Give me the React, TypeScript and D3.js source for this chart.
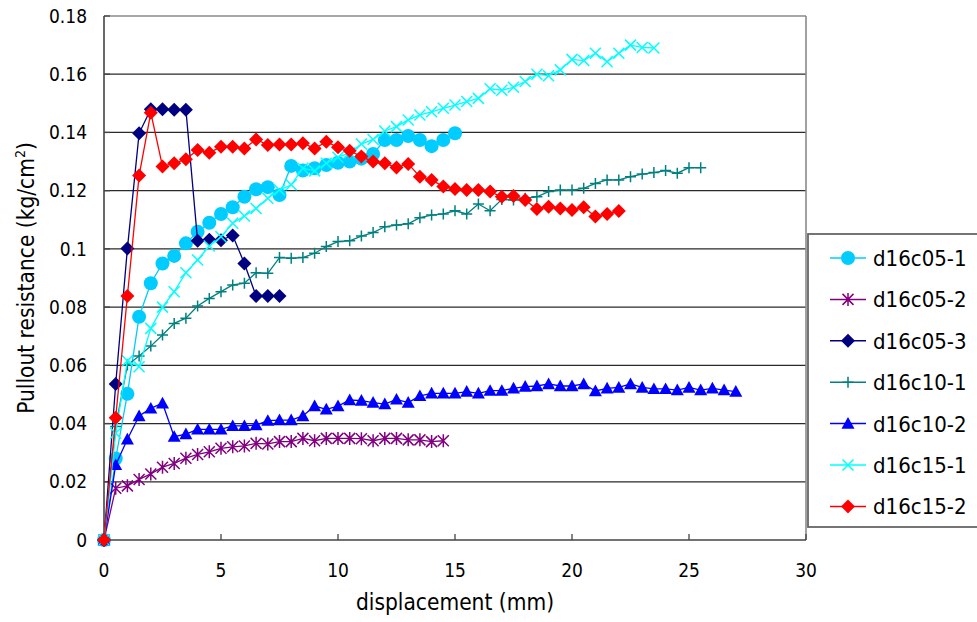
import React from "react";
import * as d3 from "d3";

const disp = [0, 0.5, 1, 1.5, 2, 2.5, 3, 3.5, 4, 4.5, 5, 5.5, 6, 6.5, 7, 7.5, 8, 8.5, 9, 9.5, 10, 10.5, 11, 11.5, 12, 12.5, 13, 13.5, 14, 14.5, 15, 15.5, 16, 16.5, 17, 17.5, 18, 18.5, 19, 19.5, 20, 20.5, 21, 21.5, 22, 22.5, 23, 23.5, 24, 24.5, 25, 25.5, 26, 26.5, 27];

const d16c05_1 = [0, 0.028, 0.0502, 0.0767, 0.0882, 0.095, 0.0976, 0.1019, 0.1059, 0.109, 0.112, 0.1143, 0.1179, 0.1205, 0.1212, 0.1185, 0.1285, 0.1269, 0.1277, 0.1288, 0.1296, 0.130, 0.131, 0.1326, 0.1374, 0.1374, 0.1388, 0.1374, 0.1353, 0.1374, 0.1397];
const d16c05_2 = [0, 0.0178, 0.0186, 0.0208, 0.0227, 0.025, 0.0263, 0.0281, 0.0294, 0.0303, 0.0315, 0.032, 0.0323, 0.0332, 0.033, 0.0338, 0.0338, 0.0349, 0.0341, 0.0349, 0.0349, 0.0349, 0.0348, 0.0341, 0.0349, 0.0349, 0.0344, 0.0344, 0.0338, 0.0341];
const d16c05_3 = [0, 0.0536, 0.1001, 0.1397, 0.148, 0.148, 0.1478, 0.1478, 0.1028, 0.1031, 0.103, 0.1046, 0.095, 0.0838, 0.0838, 0.0838];
const d16c10_1 = [0, 0.039, 0.0601, 0.0632, 0.0666, 0.0704, 0.0744, 0.0762, 0.0804, 0.083, 0.0853, 0.0876, 0.0882, 0.0918, 0.0916, 0.097, 0.0968, 0.097, 0.0985, 0.1008, 0.1025, 0.1028, 0.1044, 0.1056, 0.1076, 0.1082, 0.1086, 0.1107, 0.1116, 0.112, 0.1131, 0.112, 0.1154, 0.1131, 0.117, 0.1168, 0.1174, 0.1179, 0.1197, 0.1202, 0.1202, 0.1208, 0.1225, 0.1237, 0.1237, 0.1248, 0.1257, 0.1262, 0.1269, 0.126, 0.1279, 0.1279];
const d16c10_2 = [0, 0.0258, 0.0346, 0.0426, 0.0452, 0.047, 0.0355, 0.0364, 0.038, 0.038, 0.038, 0.0392, 0.0392, 0.0395, 0.041, 0.0412, 0.0412, 0.0426, 0.046, 0.0449, 0.046, 0.0481, 0.0479, 0.0472, 0.0467, 0.0483, 0.0472, 0.0495, 0.0504, 0.0504, 0.0504, 0.051, 0.0504, 0.0513, 0.0513, 0.0521, 0.0527, 0.0529, 0.0536, 0.0529, 0.0529, 0.0536, 0.0512, 0.0521, 0.0524, 0.0536, 0.0524, 0.0519, 0.0519, 0.0515, 0.0524, 0.0515, 0.0521, 0.0515, 0.051];
const d16c15_1 = [0, 0.0367, 0.0616, 0.0595, 0.0727, 0.08, 0.0853, 0.0918, 0.0962, 0.101, 0.1042, 0.1088, 0.1113, 0.1139, 0.1174, 0.1202, 0.122, 0.1277, 0.1268, 0.1294, 0.1315, 0.133, 0.136, 0.1376, 0.1405, 0.142, 0.1443, 0.146, 0.1471, 0.1483, 0.1494, 0.1506, 0.1517, 0.155, 0.1545, 0.1555, 0.1575, 0.160, 0.1595, 0.1615, 0.1651, 0.1647, 0.1672, 0.1643, 0.1672, 0.170, 0.1692, 0.169];
const d16c15_2 = [0, 0.042, 0.0838, 0.1252, 0.1468, 0.1283, 0.1294, 0.1308, 0.134, 0.133, 0.1351, 0.1351, 0.1345, 0.1376, 0.1357, 0.1359, 0.1359, 0.1363, 0.1345, 0.1368, 0.1349, 0.1337, 0.1317, 0.130, 0.1294, 0.128, 0.1292, 0.1248, 0.1237, 0.1214, 0.1206, 0.1202, 0.1202, 0.1197, 0.1179, 0.1182, 0.1168, 0.1137, 0.1145, 0.1139, 0.1134, 0.1143, 0.1111, 0.112, 0.113];

const seriesNames = ["d16c05-1", "d16c05-2", "d16c05-3", "d16c10-1", "d16c10-2", "d16c15-1", "d16c15-2"];
const seriesValues = [d16c05_1, d16c05_2, d16c05_3, d16c10_1, d16c10_2, d16c15_1, d16c15_2];

const xTicks = [0, 5, 10, 15, 20, 25, 30];
const yTicks = [0, 0.02, 0.04, 0.06, 0.08, 0.1, 0.12, 0.14, 0.16, 0.18];
const yTickLabels = ["0", "0.02", "0.04", "0.06", "0.08", "0.1", "0.12", "0.14", "0.16", "0.18"];

const styles = [
  { color: "#00CCFF", shape: "circle" },
  { color: "#800080", shape: "asterisk" },
  { color: "#000080", shape: "diamond" },
  { color: "#008080", shape: "plus" },
  { color: "#0000FF", shape: "triangle" },
  { color: "#00FFFF", shape: "x" },
  { color: "#FF0000", shape: "diamond" },
];

const W = 977, H = 622;
const L = 104, R = 806, T = 16, B = 540;
const FONT = "'DejaVu Sans Condensed', 'Noto Sans', sans-serif";

function markerPath(shape: string): string {
  switch (shape) {
    case "circle": {
      const r = 7;
      return `M${-r},0A${r},${r} 0 1,0 ${r},0A${r},${r} 0 1,0 ${-r},0Z`;
    }
    case "diamond": {
      const r = 7;
      return `M0,${-r}L${r},0L0,${r}L${-r},0Z`;
    }
    case "triangle": {
      const w = 6.5, h = 6.5;
      return `M0,${-h}L${w},${h * 0.8}L${-w},${h * 0.8}Z`;
    }
    case "x": {
      const r = 5.5;
      return `M${-r},${-r}L${r},${r}M${-r},${r}L${r},${-r}`;
    }
    case "plus": {
      const r = 5.5;
      return `M${-r},0L${r},0M0,${-r}L0,${r}`;
    }
    case "asterisk": {
      const r = 5.5;
      return `M${-r},${-r}L${r},${r}M${-r},${r}L${r},${-r}M0,${-r - 1}L0,${r + 1}`;
    }
  }
  return "";
}

function isStroke(shape: string) {
  return shape === "x" || shape === "plus" || shape === "asterisk";
}

function Marker({ shape, color, x, y }: { shape: string; color: string; x: number; y: number }) {
  const stroke = isStroke(shape);
  return (
    <path
      d={markerPath(shape)}
      transform={`translate(${x},${y})`}
      fill={stroke ? "none" : color}
      stroke={color}
      strokeWidth={stroke ? 1.5 : 0}
    />
  );
}

export default function App() {
  const xs = d3.scaleLinear().domain([0, 30]).range([L, R]);
  const ys = d3.scaleLinear().domain([0, 0.18]).range([B, T]);
  const line = d3.line<[number, number]>().x((d) => xs(d[0])).y((d) => ys(d[1]));

  const data = seriesValues.map((vals) => vals.map((v, i) => [disp[i], v] as [number, number]));

  const legX = 808, legY = 234, legH = 293;
  const rowY0 = 258, rowStep = 41.4;

  return (
    <svg width={W} height={H} style={{ position: "absolute", left: 0, top: 0, background: "#fff" }} fontFamily={FONT}>
      <rect x={0} y={0} width={W} height={H} fill="#fff" />
      {yTicks.slice(1, -1).map((t) => (
        <line key={t} x1={L} x2={R} y1={ys(t)} y2={ys(t)} stroke="#2a2a2a" strokeWidth={1.3} />
      ))}
      <line x1={L} x2={R} y1={T} y2={T} stroke="#8a8a8a" strokeWidth={1.6} />
      <line x1={R} x2={R} y1={T} y2={B} stroke="#8a8a8a" strokeWidth={1.6} />
      <line x1={L} x2={L} y1={T} y2={B} stroke="#444" strokeWidth={1.6} />
      <line x1={L} x2={R} y1={B} y2={B} stroke="#444" strokeWidth={1.6} />
      {yTicks.map((t) => (
        <line key={"yt" + t} x1={L} x2={L + 6} y1={ys(t)} y2={ys(t)} stroke="#444" strokeWidth={1.3} />
      ))}
      {xTicks.map((t) => (
        <line key={"xt" + t} x1={xs(t)} x2={xs(t)} y1={B} y2={B - 6} stroke="#444" strokeWidth={1.3} />
      ))}
      {yTicks.map((t, i) => (
        <text key={"yl" + t} x={87} y={ys(t)} dy="0.35em" textAnchor="end" fontSize={19} fill="#000">
          {yTickLabels[i]}
        </text>
      ))}
      {xTicks.map((t) => (
        <text key={"xl" + t} x={xs(t)} y={577} textAnchor="middle" fontSize={19} fill="#000">
          {String(t)}
        </text>
      ))}
      <text x={(L + R) / 2} y={610} textAnchor="middle" fontSize={22.5} fill="#000">
        displacement (mm)
      </text>
      <text transform={`translate(34,${(T + B) / 2}) rotate(-90)`} textAnchor="middle" fontSize={22.5} fill="#000">
        Pullout resistance (kg/cm
        <tspan fontSize={14} dy={-9}>2</tspan>
        <tspan dy={9}>)</tspan>
      </text>
      {data.map((pts, si) => (
        <g key={seriesNames[si]}>
          <path d={line(pts) || ""} fill="none" stroke={styles[si].color} strokeWidth={1.3} />
          {pts.map((p, pi) => (
            <Marker key={pi} shape={styles[si].shape} color={styles[si].color} x={xs(p[0])} y={ys(p[1])} />
          ))}
        </g>
      ))}
      <rect x={legX} y={legY} width={W - legX + 10} height={legH} fill="#fff" stroke="#666" strokeWidth={1.8} />
      {seriesNames.map((n, i) => {
        const y = rowY0 + i * rowStep;
        return (
          <g key={"lg" + n}>
            <line x1={830} x2={866} y1={y} y2={y} stroke={styles[i].color} strokeWidth={1.5} />
            <Marker shape={styles[i].shape} color={styles[i].color} x={848} y={y} />
            <text x={873} y={y} dy="0.36em" fontSize={22} fill="#000">
              {n}
            </text>
          </g>
        );
      })}
    </svg>
  );
}
